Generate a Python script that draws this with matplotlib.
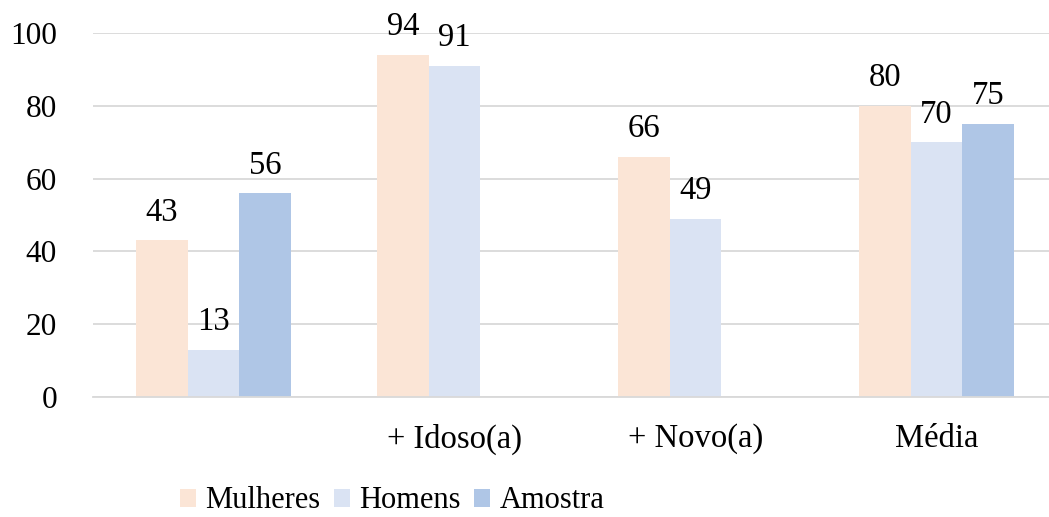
import numpy as np
import matplotlib
matplotlib.use("Agg")
import matplotlib.pyplot as plt

categories = ["", "+ Idoso(a)", "+ Novo(a)", "Média"]
series_names = ["Mulheres", "Homens", "Amostra"]
mulheres = [43, 94, 66, 80]
homens = [13, 91, 49, 70]
amostra = [56, None, None, 75]
colors = ["#FBE5D6", "#DAE3F3", "#AFC6E6"]

plt.rcParams["font.family"] = ["Liberation Serif", "DejaVu Serif"]
FS = 23.5

fig = plt.figure(figsize=(10.49, 5.17), dpi=100)
ax = fig.add_axes([93 / 1049, 120 / 517, 956 / 1049, 364 / 517])

x = np.arange(len(categories))
w = 0.214
all_series = [mulheres, homens, amostra]
for i, (name, vals, col) in enumerate(zip(series_names, all_series, colors)):
    pos = x + (i - 1) * w
    v = np.array([np.nan if val is None else val for val in vals], dtype=float)
    ax.bar(pos, v, width=w, color=col, label=name, zorder=2)
    for p, val in zip(pos, vals):
        if val is None:
            continue
        ax.annotate(f"{val}", (p, val), xytext=(0, 9), textcoords="offset points",
                    ha="center", va="bottom", fontsize=FS, annotation_clip=False)

ax.set_xlim(-0.5, -0.5 + 956 / 241)
ax.set_ylim(0, 100)
ax.set_yticks([0, 20, 40, 60, 80, 100])
ax.set_xticks(x)
ax.set_xticklabels(categories)
ax.tick_params(axis="y", length=0, pad=26, labelsize=22.5)
ax.tick_params(axis="x", length=0, pad=19, labelsize=FS)
ax.grid(axis="y", color="#D9D9D9", linewidth=1.3, zorder=0)
ax.set_axisbelow(True)
for s in ["top", "right", "left"]:
    ax.spines[s].set_visible(False)
ax.spines["bottom"].set_color("#D9D9D9")
ax.spines["bottom"].set_linewidth(1.3)

fig.legend(loc="center left", bbox_to_anchor=(180 / 1049, 16 / 517), ncol=3,
           frameon=False, fontsize=22, handlelength=0.52, handleheight=0.52,
           handletextpad=0.3, columnspacing=0.45, borderaxespad=0, borderpad=0)

fig.savefig("out.png", dpi=100)
